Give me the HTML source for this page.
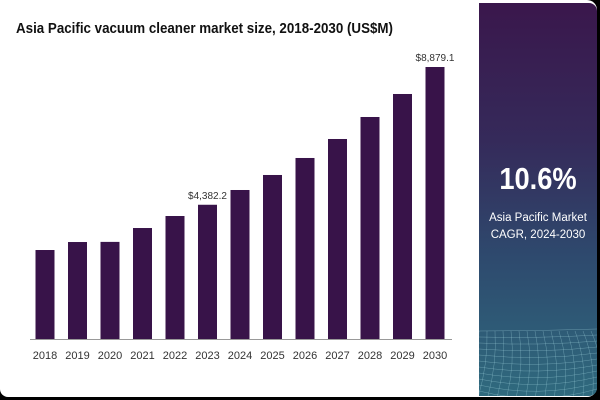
<!DOCTYPE html>
<html><head><meta charset="utf-8"><style>
body{margin:0;width:600px;height:400px;background:#000;overflow:hidden;font-family:"Liberation Sans",sans-serif}
#card{position:absolute;left:0;top:0;width:597px;height:397px;background:#fff;border-radius:0 10px 10px 8px}
#panel{position:absolute;left:479px;top:3px;width:118px;height:393px;background:linear-gradient(#3a174c 0%,#352a5a 35%,#2e4a6e 65%,#2f6a7e 100%);border-radius:0 8px 8px 0;overflow:hidden}
</style></head><body>
<div id="card"></div>
<div id="panel">
<svg width="118" height="393" style="position:absolute;left:0;top:0">
<g stroke="#9fd3de" stroke-width="0.5" opacity="0.5" fill="none" id="mesh"></g>
</svg>
<div style="position:absolute;left:0;width:118px;top:158px;text-align:center;color:#fff;font-weight:bold;font-size:31px;transform:scaleX(0.88)">10.6%</div>
<div style="position:absolute;left:0;width:118px;top:207px;text-align:center;color:#fff;font-size:11.5px;line-height:17px">Asia Pacific Market<br>CAGR, 2024-2030</div>
</div>
<div style="position:absolute;left:16px;top:20px;font-weight:bold;font-size:15px;color:#111;transform:scaleX(0.89);transform-origin:0 0;white-space:nowrap">Asia Pacific vacuum cleaner market size, 2018-2030 (US$M)</div>
<svg id="chart" width="479" height="397" style="position:absolute;left:0;top:0"></svg>
<script>
const years=["2018","2019","2020","2021","2022","2023","2024","2025","2026","2027","2028","2029","2030"];
const values=[2905,3166,3170,3623,4015,4382.2,4864,5354,5909,6529,7247,7998,8879.1];
const labels=["","","","","","$4,382.2","","","","","","","$8,879.1"];
const NS="http://www.w3.org/2000/svg",svg=document.getElementById('chart');
const base=339,maxH=272,maxV=8879.1;
const x=i=>45+i*32.5, y=v=>base-v/maxV*maxH;
function mk(t,a){const e=document.createElementNS(NS,t);for(const k in a)e.setAttribute(k,a[k]);svg.appendChild(e);return e;}
years.forEach((yr,i)=>{
 const r=mk('rect',{x:x(i)-9.5,y:y(values[i]),width:19,height:base-y(values[i]),fill:'#381349'});
 
 
 const t=mk('text',{x:x(i),y:359,'text-anchor':'middle','font-size':11,fill:'#333'});t.textContent=yr;
 
 
 if(labels[i]){const l=mk('text',{x:x(i),y:y(values[i])-6,'text-anchor':'middle','font-size':10,fill:'#333'});l.textContent=labels[i];
 
 }
});
const ax=mk('line',{x1:30,x2:452,y1:base+0.5,y2:base+0.5,stroke:'#999'});


const m=document.getElementById('mesh');let d='';
for(let j=0;j<12;j++){const yy=328+j*6;d+=`M0 ${yy} Q60 ${yy+j*1.5} 118 ${yy-2}`;}
for(let k=0;k<16;k++){const xx=k*8;d+=`M${xx} 328 Q${xx+k} 360 ${xx-10+k*1.5} 393`;}
const p=document.createElementNS(NS,'path');p.setAttribute('d',d);m.appendChild(p);
</script>
</body></html>
